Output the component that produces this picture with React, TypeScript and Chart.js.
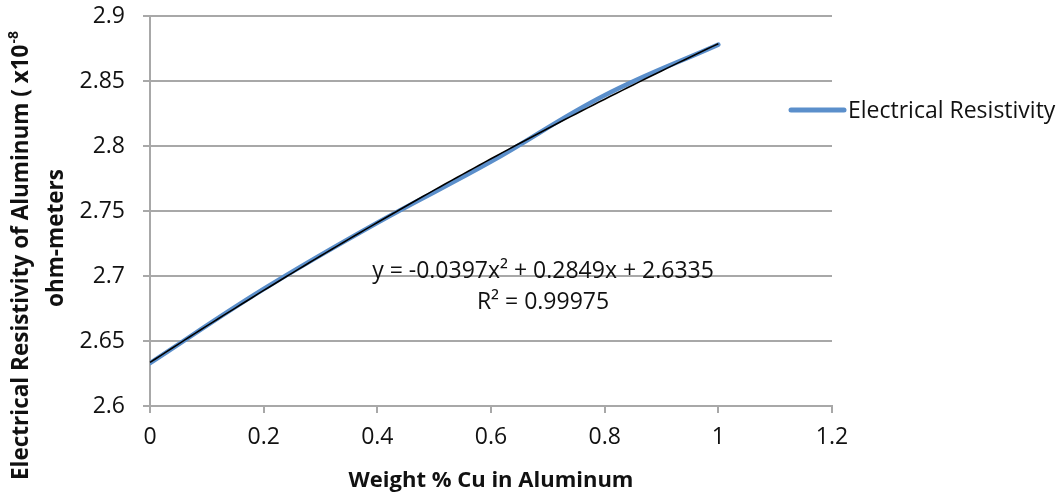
import React, { useEffect, useRef } from "react";
import { Chart, registerables } from "chart.js";

Chart.register(...registerables);

const weightPctCu = [0, 0.2, 0.4, 0.6, 0.8, 1.0];
const resistivity = [2.633, 2.69, 2.741, 2.788, 2.839, 2.878];
const trendCoefficients = [2.6335, 0.2849, -0.0397]; // c0 + c1 x + c2 x^2
const trendRange = [0, 1.0];
const seriesName = "Electrical Resistivity";
const xTitle = "Weight % Cu in Aluminum";
const yTitleLine1 = "Electrical Resistivity of Aluminum ( x10";
const yTitleSup = "-8";
const yTitleLine2 = "ohm-meters";
const equationLine1 = "y = -0.0397x² + 0.2849x + 2.6335";
const equationLine2 = "R² = 0.99975";

const FONT = "'Open Sans', Lato, sans-serif";
const BLUE = "#5b8fcb";
const GRID = "#a8a8a8";
const TEXT = "#111111";

const fmt = (v: number) => String(Math.round(v * 100) / 100);

const overlayPlugin = {
  id: "overlay",
  afterDatasetsDraw(chart: any) {
    const { ctx, scales } = chart;
    const xs = scales.x;
    const ys = scales.y;
    ctx.save();
    ctx.beginPath();
    const steps = 100;
    for (let i = 0; i <= steps; i++) {
      const x = trendRange[0] + ((trendRange[1] - trendRange[0]) * i) / steps;
      const y = trendCoefficients[0] + trendCoefficients[1] * x + trendCoefficients[2] * x * x;
      const px = xs.getPixelForValue(x);
      const py = ys.getPixelForValue(y);
      if (i === 0) ctx.moveTo(px, py);
      else ctx.lineTo(px, py);
    }
    ctx.strokeStyle = "#000000";
    ctx.lineWidth = 1.6;
    ctx.stroke();
    ctx.restore();
  },
  afterDraw(chart: any) {
    const { ctx, chartArea } = chart;
    ctx.save();
    ctx.fillStyle = TEXT;
    ctx.font = `23px ${FONT}`;
    ctx.textAlign = "center";
    ctx.textBaseline = "middle";
    ctx.fillText(equationLine1, 543, 271);
    ctx.fillText(equationLine2, 543, 302);
    ctx.font = `bold 22px ${FONT}`;
    ctx.fillText(xTitle, (chartArea.left + chartArea.right) / 2, 481);
    ctx.save();
    ctx.translate(22, 256);
    ctx.rotate(-Math.PI / 2);
    ctx.font = `bold 22.5px ${FONT}`;
    const mainW = ctx.measureText(yTitleLine1).width;
    ctx.font = `bold 14px ${FONT}`;
    const supW = ctx.measureText(yTitleSup).width;
    const total = mainW + supW;
    ctx.textAlign = "left";
    ctx.font = `bold 22.5px ${FONT}`;
    ctx.fillText(yTitleLine1, -total / 2, 0);
    ctx.font = `bold 14px ${FONT}`;
    ctx.fillText(yTitleSup, -total / 2 + mainW + 1, -8);
    ctx.restore();
    ctx.save();
    ctx.translate(57, 238);
    ctx.rotate(-Math.PI / 2);
    ctx.font = `bold 22.5px ${FONT}`;
    ctx.textAlign = "center";
    ctx.fillText(yTitleLine2, 0, 0);
    ctx.restore();
    const ly = 110;
    ctx.beginPath();
    ctx.moveTo(chartArea.right - 41, ly);
    ctx.lineTo(chartArea.right + 12, ly);
    ctx.strokeStyle = BLUE;
    ctx.lineWidth = 5;
    ctx.lineCap = "round";
    ctx.stroke();
    ctx.font = `23px ${FONT}`;
    ctx.textAlign = "left";
    ctx.fillStyle = TEXT;
    ctx.fillText(seriesName, chartArea.right + 16, ly + 1);
    ctx.restore();
  },
};

export default function App() {
  const canvasRef = useRef<HTMLCanvasElement>(null);
  useEffect(() => {
    if (!canvasRef.current) return;
    const chart = new Chart(canvasRef.current, {
      type: "scatter",
      data: {
        datasets: [
          {
            label: seriesName,
            data: weightPctCu.map((x, i) => ({ x, y: resistivity[i] })),
            showLine: true,
            borderColor: BLUE,
            backgroundColor: BLUE,
            borderWidth: 4.5,
            pointRadius: 0,
            tension: 0.4,
            borderCapStyle: "round",
          },
        ],
      },
      options: {
        animation: false,
        responsive: false,
        maintainAspectRatio: false,
        layout: { padding: { top: 16, right: 231, left: 0, bottom: 0 } },
        plugins: { legend: { display: false }, tooltip: { enabled: false } },
        scales: {
          x: {
            type: "linear",
            min: 0,
            max: 1.2,
            afterFit: (s: any) => {
              s.height = 94;
            },
            ticks: {
              stepSize: 0.2,
              padding: 11,
              color: TEXT,
              font: { family: FONT, size: 23 },
              callback: (v: any) => fmt(Number(v)),
            },
            grid: {
              display: true,
              drawOnChartArea: false,
              drawTicks: true,
              tickLength: 7,
              color: GRID,
              lineWidth: 2,
            },
            border: { display: true, color: GRID, width: 2 },
          },
          y: {
            type: "linear",
            min: 2.6,
            max: 2.9,
            afterFit: (s: any) => {
              s.width = 150;
              s.paddingTop = 0;
              s.paddingBottom = 0;
            },
            ticks: {
              stepSize: 0.05,
              padding: 18,
              color: TEXT,
              font: { family: FONT, size: 23 },
              callback: (v: any) => fmt(Number(v)),
            },
            grid: {
              display: true,
              drawOnChartArea: true,
              drawTicks: true,
              tickLength: 7,
              color: GRID,
              lineWidth: 2,
            },
            border: { display: true, color: GRID, width: 2 },
          },
        },
      },
      plugins: [overlayPlugin],
    });
    return () => chart.destroy();
  }, []);
  return (
    <div style={{ position: "fixed", left: 0, top: 0, width: 1063, height: 500, background: "#fff" }}>
      <canvas ref={canvasRef} width={1063} height={500} style={{ width: 1063, height: 500 }} />
    </div>
  );
}
